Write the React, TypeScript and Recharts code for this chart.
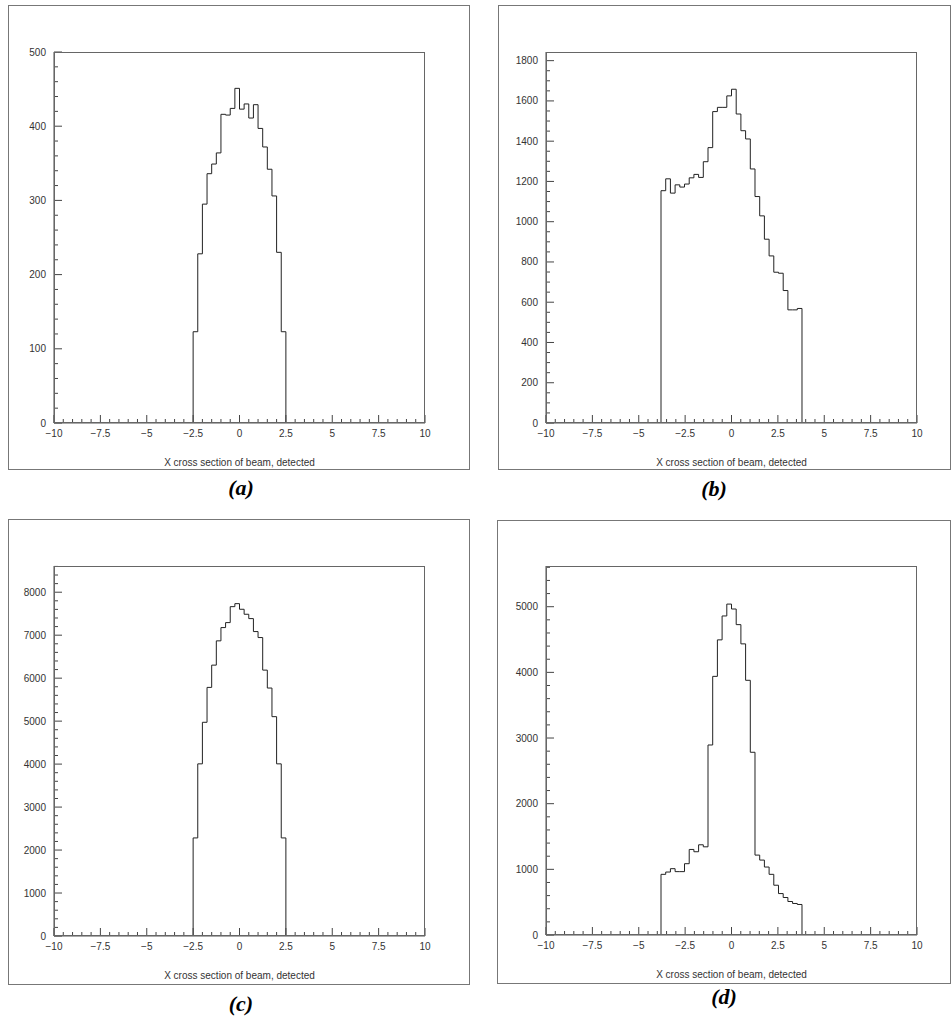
import React from 'react';
import { LineChart, Line, XAxis, YAxis } from 'recharts';

// ---------- data ----------
const xMajorTicks = [-10, -7.5, -5, -2.5, 0, 2.5, 5, 7.5, 10];
const xTickLabels = ['\u221210', '\u22127.5', '\u22125', '\u22122.5', '0', '2.5', '5', '7.5', '10'];
const xTitle = 'X cross section of beam, detected';

// histogram (a): 20 bins from -2.5 to 2.5
const binsA = { lo: -2.5, hi: 2.5 };
const countsA = [123, 228, 295, 336, 349, 364, 416, 415, 424, 451, 423, 430, 411, 429, 397, 372, 342, 306, 230, 123];
const yTicksA = [0, 100, 200, 300, 400, 500];

// histogram (b): 30 bins from -3.8 to 3.8
const binsB = { lo: -3.8, hi: 3.8 };
const countsB = [1154, 1213, 1142, 1183, 1172, 1187, 1218, 1235, 1220, 1298, 1368, 1547, 1568, 1568, 1625, 1658, 1535, 1452, 1411, 1262, 1125, 1029, 913, 830, 749, 744, 658, 562, 562, 569];
const yTicksB = [0, 200, 400, 600, 800, 1000, 1200, 1400, 1600, 1800];

// histogram (c): 20 bins from -2.5 to 2.5
const binsC = { lo: -2.5, hi: 2.5 };
const countsC = [2282, 4006, 4973, 5785, 6303, 6868, 7177, 7293, 7664, 7734, 7603, 7487, 7386, 7084, 6945, 6187, 5770, 5104, 4006, 2282];
const yTicksC = [0, 1000, 2000, 3000, 4000, 5000, 6000, 7000, 8000];

// histogram (d): 30 bins from -3.8 to 3.8
const binsD = { lo: -3.8, hi: 3.8 };
const countsD = [924, 959, 1010, 965, 965, 1086, 1303, 1268, 1374, 1343, 2894, 3939, 4495, 4859, 5040, 4965, 4727, 4434, 3879, 2783, 1217, 1141, 1035, 924, 758, 631, 571, 510, 480, 465];
const yTicksD = [0, 1000, 2000, 3000, 4000, 5000];

const panelLabels = ['(a)', '(b)', '(c)', '(d)'];

// ---------- helpers ----------
function buildSteps(counts: number[], lo: number, hi: number) {
  const w = (hi - lo) / counts.length;
  const pts: { x: number; y: number }[] = [{ x: lo, y: 0 }];
  counts.forEach((c, i) => pts.push({ x: lo + i * w, y: c }));
  pts.push({ x: hi, y: 0 });
  return pts;
}

function range(from: number, to: number, step: number) {
  const out: number[] = [];
  for (let v = from; v <= to + 1e-9; v += step) out.push(Math.round(v * 1000) / 1000);
  return out;
}

const TICK_FONT = '"Liberation Sans", Arial, sans-serif';
const TICK_COLOR = '#333';

type Geo = {
  frame: { x: number; y: number; w: number; h: number };
  plot: { l: number; t: number; r: number; b: number };
  label: { x: number; y: number };
};

function Panel(props: {
  geo: Geo;
  counts: number[];
  bins: { lo: number; hi: number };
  yMax: number;
  yMajor: number[];
  yMinorStep: number;
  label: string;
}) {
  const { geo, counts, bins, yMax, yMajor, yMinorStep, label } = props;
  const { frame, plot } = geo;
  const data = buildSteps(counts, bins.lo, bins.hi);
  const yAll = range(0, yMax, yMinorStep);
  const xAll = range(-10, 10, 0.5);
  const L = plot.l - frame.x;
  const B = plot.b - frame.y;
  const plotW = plot.r - plot.l;

  const yTick = (p: any) => {
    const v = p.payload.value;
    const y = p.y;
    const major = yMajor.includes(v);
    return (
      <g>
        <line x1={L} x2={L + (major ? 8 : 4)} y1={y} y2={y} stroke="#444" strokeWidth={1} />
        {major && (
          <text x={L - 8} y={y} textAnchor="end" dominantBaseline="central" fontFamily={TICK_FONT} fontSize={10} fill={TICK_COLOR}>
            {String(v)}
          </text>
        )}
      </g>
    );
  };

  const xTick = (p: any) => {
    const v = p.payload.value;
    const x = p.x;
    const idx = xMajorTicks.indexOf(v);
    const major = idx >= 0;
    return (
      <g>
        <line x1={x} x2={x} y1={B} y2={B - (major ? 8 : 4)} stroke="#444" strokeWidth={1} />
        {major && (
          <text x={x} y={B + 10} textAnchor="middle" dominantBaseline="central" fontFamily={TICK_FONT} fontSize={10} fill={TICK_COLOR}>
            {xTickLabels[idx]}
          </text>
        )}
      </g>
    );
  };

  return (
    <>
      <div
        style={{
          position: 'absolute',
          left: frame.x,
          top: frame.y,
          width: frame.w,
          height: frame.h,
          border: '1px solid #777',
          boxSizing: 'border-box',
        }}
      />
      <div style={{ position: 'absolute', left: frame.x, top: frame.y }}>
        <LineChart
          width={frame.w}
          height={frame.h}
          data={data}
          margin={{ top: plot.t - frame.y, right: frame.x + frame.w - plot.r, left: 0, bottom: 0 }}
        >
          <XAxis
            dataKey="x"
            type="number"
            domain={[-10, 10]}
            ticks={xAll}
            interval={0}
            allowDataOverflow
            height={frame.y + frame.h - plot.b}
            tickLine={false}
            axisLine={{ stroke: '#555', strokeWidth: 1 }}
            tick={xTick}
          />
          <YAxis
            type="number"
            domain={[0, yMax]}
            ticks={yAll}
            interval={0}
            allowDataOverflow
            width={L}
            tickLine={false}
            axisLine={{ stroke: '#888', strokeWidth: 1.5 }}
            tick={yTick}
          />
          <Line
            dataKey="y"
            type="stepAfter"
            stroke="#222"
            strokeWidth={1}
            dot={false}
            activeDot={false}
            isAnimationActive={false}
          />
        </LineChart>
      </div>
      <div
        style={{
          position: 'absolute',
          left: plot.l,
          top: plot.t,
          width: plot.r - plot.l,
          height: plot.b - plot.t,
          border: '1px solid #666',
          boxSizing: 'border-box',
          pointerEvents: 'none',
        }}
      />
      <div
        style={{
          position: 'absolute',
          left: plot.l,
          width: plotW,
          top: plot.b + 34,
          textAlign: 'center',
          fontFamily: TICK_FONT,
          fontSize: 10,
          color: TICK_COLOR,
          lineHeight: '12px',
        }}
      >
        {xTitle}
      </div>
      <div
        style={{
          position: 'absolute',
          left: geo.label.x - 40,
          width: 80,
          top: geo.label.y - 13,
          textAlign: 'center',
          fontFamily: '"Liberation Serif", "Times New Roman", serif',
          fontWeight: 'bold',
          fontStyle: 'italic',
          fontSize: 22,
          lineHeight: '26px',
          color: '#000',
        }}
      >
        {label}
      </div>
    </>
  );
}

const geoA: Geo = { frame: { x: 8, y: 5, w: 462, h: 465 }, plot: { l: 54, t: 52, r: 425, b: 423 }, label: { x: 241, y: 488 } };
const geoB: Geo = { frame: { x: 498, y: 5, w: 453, h: 465 }, plot: { l: 546, t: 52, r: 917, b: 423 }, label: { x: 714, y: 489 } };
const geoC: Geo = { frame: { x: 8, y: 519, w: 462, h: 466 }, plot: { l: 54, t: 566, r: 425, b: 936 }, label: { x: 241, y: 1004 } };
const geoD: Geo = { frame: { x: 497, y: 520, w: 454, h: 464 }, plot: { l: 546, t: 566, r: 917, b: 935 }, label: { x: 724, y: 997 } };

export default function App() {
  return (
    <div style={{ position: 'absolute', left: 0, top: 0, width: 951, height: 1019, background: '#fff', overflow: 'hidden' }}>
      <Panel geo={geoA} counts={countsA} bins={binsA} yMax={500} yMajor={yTicksA} yMinorStep={20} label={panelLabels[0]} />
      <Panel geo={geoB} counts={countsB} bins={binsB} yMax={1843} yMajor={yTicksB} yMinorStep={50} label={panelLabels[1]} />
      <Panel geo={geoC} counts={countsC} bins={binsC} yMax={8610} yMajor={yTicksC} yMinorStep={200} label={panelLabels[2]} />
      <Panel geo={geoD} counts={countsD} bins={binsD} yMax={5620} yMajor={yTicksD} yMinorStep={200} label={panelLabels[3]} />
    </div>
  );
}
